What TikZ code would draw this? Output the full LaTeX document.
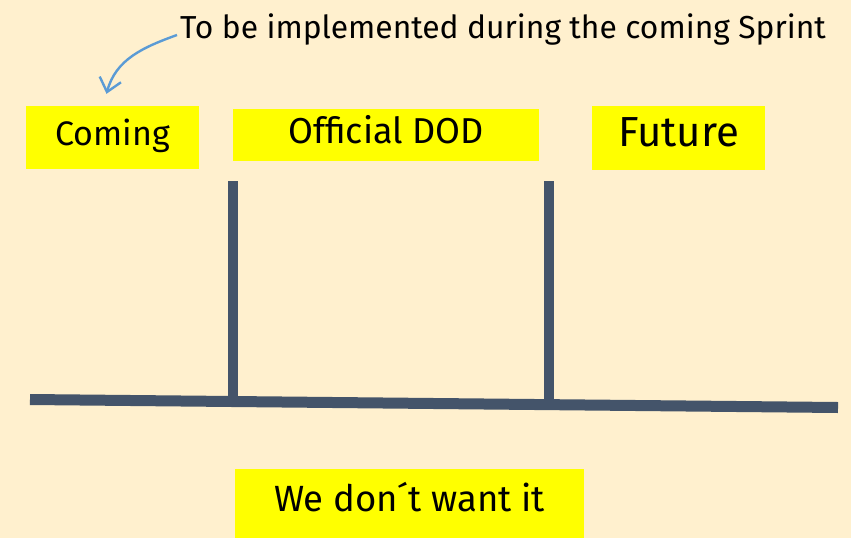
\documentclass[tikz,border=0pt]{standalone}
\usepackage{fontspec}
\setmainfont{Fira Sans}
\usetikzlibrary{arrows.meta, positioning, calc}
\definecolor{paperCream}{RGB}{255, 240, 206}
\definecolor{markYellow}{RGB}{255, 255,   0}
\definecolor{barSlate}  {RGB}{ 68,  84, 106}
\definecolor{noteBlue}  {RGB}{ 91, 155, 213}
\tikzset{
  tag/.style   = {rectangle, fill=markYellow, inner sep=0pt, align=center,
                  text height=24pt, text depth=8pt, minimum width=#1},
  tag/.default = 173pt,
  bar/.style   = {line width=#1, color=barSlate},
  note/.style  = {font=\fontsize{31.8}{36}\selectfont, inner sep=0pt},
  narr/.style  = {-{Straight Barb[length=13pt, width=22pt]}, line width=2.4pt,
                  color=noteBlue},
}

\begin{document}
\begin{tikzpicture}[x=1pt, y=-1pt]

% ---- Canvas -----------------------------------------------------------------
\fill[paperCream] (0,0) rectangle (851,538);
\useasboundingbox (0,0) rectangle (851,538);

% ---- Top row: labels --------------------------------------------------------
\node[tag, minimum height=63pt, font=\fontsize{34}{38}\selectfont]
      (coming) at (112.5,137.5) {Coming};
\node[tag=306pt, minimum height=52pt, font=\fontsize{36}{40}\selectfont]
      (dod) at (386,135) {Official DOD};
\node[tag, minimum height=64pt, font=\fontsize{42}{46}\selectfont]
      (future) at (678.5,138) {Future};

% ---- Bottom label -----------------------------------------------------------
\node[tag=349pt, minimum height=69pt, font=\fontsize{36.5}{40}\selectfont]
      (unwanted) at (409.5,503.5) {We don´t want it};

% ---- Annotation -------------------------------------------------------------
\node[note, anchor=base west] (sprint) at (180,38)
      {To be implemented during the coming Sprint};
\draw[narr] ($(sprint.west)+(-3,6)$) to[out=200, in=75] ($(coming.north)+(-6,-12)$);

% ---- Timeline ---------------------------------------------------------------
\coordinate (baseL) at (30,399.5);
\coordinate (baseR) at (838,407.5);
\coordinate (postA) at (233,181);
\coordinate (postB) at (549,181);

\draw[bar=11pt] (baseL) -- (baseR);
\draw[bar=10pt] (postA) -- (postA |- 0,406);
\draw[bar=10pt] (postB) -- (postB |- 0,404);

\end{tikzpicture}
\end{document}
